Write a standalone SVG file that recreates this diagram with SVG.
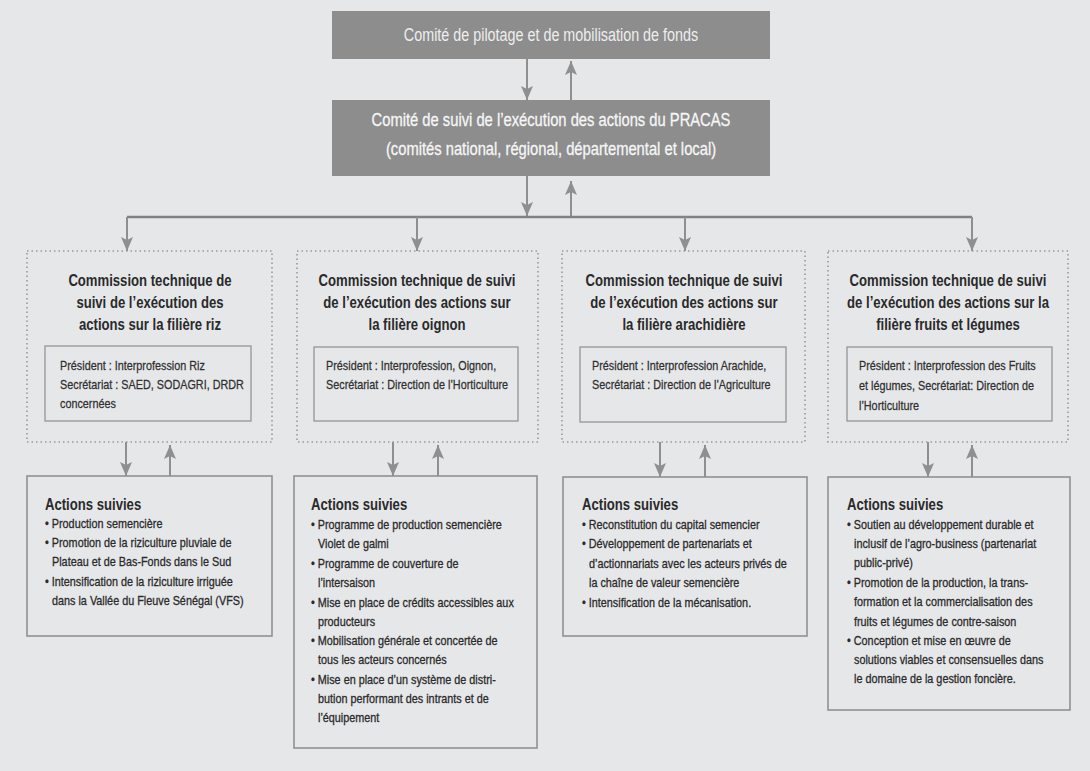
<svg xmlns="http://www.w3.org/2000/svg" width="1090" height="771" viewBox="0 0 1090 771">
<style>
text{font-family:"Liberation Sans",Arial,sans-serif;}
.bg{fill:#e6e7e9;}
.top{fill:#8d8d8d;}
.t1{font-size:17.5px;fill:#eeeeee;text-anchor:middle;}
.t2{font-size:18px;fill:#f6f6f6;text-anchor:middle;stroke:#f6f6f6;stroke-width:0.3;}
.dot{fill:none;stroke:#9a9a9a;stroke-width:1.6;stroke-dasharray:1.5 3;}
.inner{fill:none;stroke:#9b9b9b;stroke-width:1.4;}
.act{fill:none;stroke:#919191;stroke-width:1.6;}
.ti{font-size:16px;font-weight:bold;fill:#2a2a2a;text-anchor:middle;}
.in{font-size:13.2px;fill:#2f2f2f;stroke:#2f2f2f;stroke-width:0.25;}
.ah{font-size:16px;font-weight:bold;fill:#2a2a2a;}
.li{font-size:13.2px;fill:#2a2a2a;stroke:#2a2a2a;stroke-width:0.3;}
.con{fill:none;stroke:#8f8f8f;stroke-width:2;}
.bar{fill:none;stroke:#828282;stroke-width:2.4;}
</style>
<defs>
<marker id="ar" markerUnits="userSpaceOnUse" markerWidth="14" markerHeight="12" refX="14" refY="6" orient="auto">
<path d="M0,0 L14,6 L0,12 L3,6 z" fill="#8f8f8f"/>
</marker>
</defs>
<rect class="bg" x="0" y="0" width="1090" height="771"/>

<g id="connectors">
<line class="con" x1="527" y1="59" x2="527" y2="100" marker-end="url(#ar)"/>
<line class="con" x1="571" y1="100" x2="571" y2="61" marker-end="url(#ar)"/>
<line class="con" x1="527" y1="176" x2="527" y2="216" marker-end="url(#ar)"/>
<line class="con" x1="571" y1="217" x2="571" y2="181" marker-end="url(#ar)"/>
<line class="bar" x1="127" y1="217" x2="972" y2="217"/>
<line class="con" x1="127" y1="217" x2="127" y2="251" marker-end="url(#ar)"/>
<line class="con" x1="417" y1="217" x2="417" y2="251" marker-end="url(#ar)"/>
<line class="con" x1="685" y1="217" x2="685" y2="251" marker-end="url(#ar)"/>
<line class="con" x1="972" y1="217" x2="972" y2="251" marker-end="url(#ar)"/>
<line class="con" x1="126" y1="442" x2="126" y2="476" marker-end="url(#ar)"/>
<line class="con" x1="170" y1="476" x2="170" y2="445" marker-end="url(#ar)"/>
<line class="con" x1="393" y1="442" x2="393" y2="476" marker-end="url(#ar)"/>
<line class="con" x1="438" y1="476" x2="438" y2="445" marker-end="url(#ar)"/>
<line class="con" x1="660" y1="442" x2="660" y2="477" marker-end="url(#ar)"/>
<line class="con" x1="705" y1="477" x2="705" y2="445" marker-end="url(#ar)"/>
<line class="con" x1="928" y1="442" x2="928" y2="477" marker-end="url(#ar)"/>
<line class="con" x1="972" y1="477" x2="972" y2="445" marker-end="url(#ar)"/>
</g>

<g id="comite-pilotage">
<rect class="top" x="332" y="11" width="438" height="48"/>
<g transform="scale(0.82,1)">
<text class="t1" x="671.95" y="41">Comité de pilotage et de mobilisation de fonds</text>
</g>
</g>

<g id="comite-suivi">
<rect class="top" x="332" y="100" width="438" height="76"/>
<g transform="scale(0.82,1)">
<text class="t2" x="671.95" y="126">Comité de suivi de l’exécution des actions du PRACAS</text>
<text class="t2" x="671.95" y="155">(comités national, régional, départemental et local)</text>
</g>
</g>

<g id="commission-riz">
<rect class="dot" x="27" y="251" width="245" height="191"/>
<rect class="inner" x="45" y="346" width="206" height="75"/>
<g transform="scale(0.82,1)">
<text class="ti" x="182.93" y="286">Commission technique de</text>
<text class="ti" x="182.93" y="308">suivi de l’exécution des</text>
<text class="ti" x="182.93" y="330">actions sur la filière riz</text>
<text class="in" x="73.17" y="370">Président : Interprofession Riz</text>
<text class="in" x="73.17" y="389">Secrétariat : SAED, SODAGRI, DRDR</text>
<text class="in" x="73.17" y="408">concernées</text>
</g>
</g>

<g id="commission-oignon">
<rect class="dot" x="297" y="251" width="241" height="191"/>
<rect class="inner" x="314" y="347" width="204" height="74"/>
<g transform="scale(0.82,1)">
<text class="ti" x="508.54" y="286">Commission technique de suivi</text>
<text class="ti" x="508.54" y="308">de l’exécution des actions sur</text>
<text class="ti" x="508.54" y="330">la filière oignon</text>
<text class="in" x="397.56" y="370">Président : Interprofession, Oignon,</text>
<text class="in" x="397.56" y="389">Secrétariat : Direction de l’Horticulture</text>
</g>
</g>

<g id="commission-arachide">
<rect class="dot" x="562" y="251" width="243" height="191"/>
<rect class="inner" x="580" y="347" width="206" height="75"/>
<g transform="scale(0.82,1)">
<text class="ti" x="834.15" y="286">Commission technique de suivi</text>
<text class="ti" x="834.15" y="308">de l’exécution des actions sur</text>
<text class="ti" x="834.15" y="330">la filière arachidière</text>
<text class="in" x="721.95" y="370">Président : Interprofession Arachide,</text>
<text class="in" x="721.95" y="389">Secrétariat : Direction de l’Agriculture</text>
</g>
</g>

<g id="commission-fruits">
<rect class="dot" x="828" y="251" width="240" height="191"/>
<rect class="inner" x="847" y="347" width="205" height="74"/>
<g transform="scale(0.82,1)">
<text class="ti" x="1156.10" y="286">Commission technique de suivi</text>
<text class="ti" x="1156.10" y="308">de l’exécution des actions sur la</text>
<text class="ti" x="1156.10" y="330">filière fruits et légumes</text>
<text class="in" x="1047.56" y="370">Président : Interprofession des Fruits</text>
<text class="in" x="1047.56" y="390">et légumes, Secrétariat: Direction de</text>
<text class="in" x="1047.56" y="410">l’Horticulture</text>
</g>
</g>

<g id="actions-riz">
<rect class="act" x="27" y="476" width="245" height="160"/>
<g transform="scale(0.82,1)">
<text class="ah" x="54.88" y="510">Actions suivies</text>
<text class="li" x="54.88" y="528">• Production semencière</text>
<text class="li" x="54.88" y="547">• Promotion de la riziculture pluviale de</text>
<text class="li" x="63.41" y="566">Plateau et de Bas-Fonds dans le Sud</text>
<text class="li" x="54.88" y="586">• Intensification de la riziculture irriguée</text>
<text class="li" x="63.41" y="605">dans la Vallée du Fleuve Sénégal (VFS)</text>
</g>
</g>

<g id="actions-oignon">
<rect class="act" x="294" y="476" width="243" height="272"/>
<g transform="scale(0.82,1)">
<text class="ah" x="379.27" y="510">Actions suivies</text>
<text class="li" x="379.27" y="529">• Programme de production semencière</text>
<text class="li" x="387.80" y="548">Violet de galmi</text>
<text class="li" x="379.27" y="568">• Programme de  couverture de</text>
<text class="li" x="387.80" y="587">l’intersaison</text>
<text class="li" x="379.27" y="607">• Mise en place de crédits accessibles aux</text>
<text class="li" x="387.80" y="626">producteurs</text>
<text class="li" x="379.27" y="645">• Mobilisation générale et concertée de</text>
<text class="li" x="387.80" y="664">tous les acteurs concernés</text>
<text class="li" x="379.27" y="684">• Mise en place d’un système de distri-</text>
<text class="li" x="387.80" y="703">bution performant des intrants et de</text>
<text class="li" x="387.80" y="722">l’équipement</text>
</g>
</g>

<g id="actions-arachide">
<rect class="act" x="563" y="477" width="244" height="159"/>
<g transform="scale(0.82,1)">
<text class="ah" x="709.76" y="510">Actions suivies</text>
<text class="li" x="709.76" y="529">• Reconstitution du capital semencier</text>
<text class="li" x="709.76" y="548">• Développement de partenariats et</text>
<text class="li" x="718.29" y="568">d’actionnariats avec les acteurs privés de</text>
<text class="li" x="718.29" y="587">la chaîne de valeur semencière</text>
<text class="li" x="709.76" y="607">• Intensification de la mécanisation.</text>
</g>
</g>

<g id="actions-fruits">
<rect class="act" x="828" y="477" width="242" height="233"/>
<g transform="scale(0.82,1)">
<text class="ah" x="1032.93" y="510">Actions suivies</text>
<text class="li" x="1032.93" y="529">• Soutien au développement durable et</text>
<text class="li" x="1041.46" y="548">inclusif de l’agro-business (partenariat</text>
<text class="li" x="1041.46" y="567">public-privé)</text>
<text class="li" x="1032.93" y="587">• Promotion de la production, la trans-</text>
<text class="li" x="1041.46" y="606">formation et la commercialisation des</text>
<text class="li" x="1041.46" y="626">fruits et légumes de contre-saison</text>
<text class="li" x="1032.93" y="645">• Conception et mise en œuvre de</text>
<text class="li" x="1041.46" y="664">solutions viables et consensuelles dans</text>
<text class="li" x="1041.46" y="683">le domaine de la gestion foncière.</text>
</g>
</g>
</svg>
